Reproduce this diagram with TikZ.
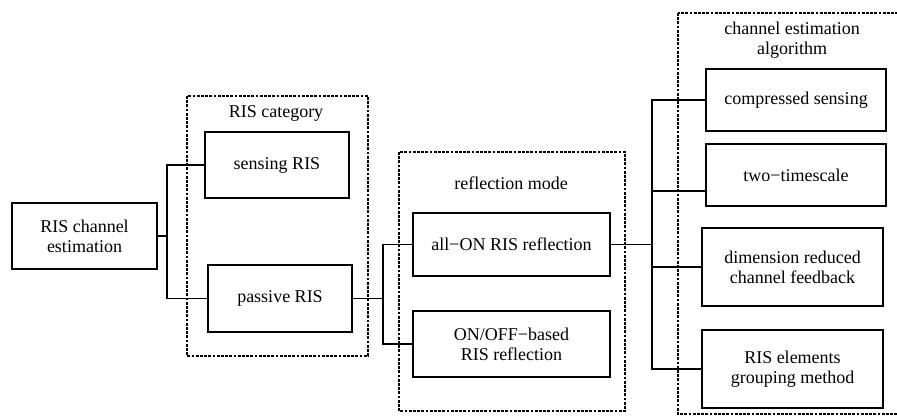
\documentclass[tikz,border=0pt]{standalone}
\usepackage{fontspec}
\setmainfont{Liberation Serif}
\begin{document}
\begin{tikzpicture}[x=1pt,y=-1pt,
  every node/.style={font=\fontsize{18}{20}\selectfont, align=center, inner sep=0pt},
  box/.style={draw, line width=1.8pt, rectangle},
  grpbox/.style={draw, line width=1.7pt, dash pattern=on 2.8pt off 1.4pt},
  conn/.style={line width=1.8pt}]
\useasboundingbox (0,0) rectangle (897,417);
% group frames
\draw[grpbox] (187,96) rectangle (368,356);
\draw[grpbox] (399,152) rectangle (625,411);
\begin{scope}
\clip (0,0) rectangle (897,417);
\draw[grpbox] (678,13) rectangle (910,414);
\end{scope}
% group labels
\node (lcat) at (276,113) {RIS category};
\node (lrefl) at (511,183) {reflection mode};
\node (lalg) at (792,40) {channel estimation\\algorithm};
% boxes
\node[box, minimum width=145pt, minimum height=66pt] (root) at (84.5,236) {RIS channel\\estimation};
\node[box, minimum width=144pt, minimum height=66pt] (sensing) at (277,165) {sensing RIS};
\node[box, minimum width=144pt, minimum height=67pt] (passive) at (280,298.5) {passive RIS};
\node[box, minimum width=197pt, minimum height=63pt] (allon) at (511.5,244.5) {all−ON RIS reflection};
\node[box, minimum width=197pt, minimum height=66pt] (onoff) at (511.5,344) {ON/OFF−based\\RIS reflection};
\node[box, minimum width=180pt, minimum height=62pt] (cs) at (796,100) {compressed sensing};
\node[box, minimum width=180pt, minimum height=62pt] (two) at (796,175) {two−timescale};
\node[box, minimum width=181pt, minimum height=78pt] (dim) at (792.5,267) {dimension reduced\\channel feedback};
\node[box, minimum width=181pt, minimum height=78pt] (grp) at (792.5,369) {RIS elements\\grouping method};
% junctions
\coordinate (j1) at (167,236);
\coordinate (j2) at (383,298.5);
\coordinate (j3) at (652,244.5);
\coordinate (twob) at ([yshift=-16pt]two.west);
% connectors
\draw[conn] (root.east) -- (j1);
\draw[conn] (sensing.west) -| (j1) |- (passive.west);
\draw[conn] (passive.east) -- (j2);
\draw[conn] (allon.west) -| (j2) |- (onoff.west);
\draw[conn] (allon.east) -- (j3);
\draw[conn] (cs.west) -| (j3) |- (grp.west);
\draw[conn] (twob) -- (twob -| j3);
\draw[conn] (dim.west) -- (dim.west -| j3);
\end{tikzpicture}
\end{document}
